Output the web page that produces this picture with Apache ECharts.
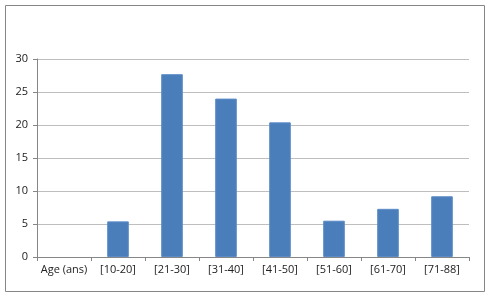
<!DOCTYPE html>
<html><head><meta charset="utf-8">
<script src="https://cdn.jsdelivr.net/npm/echarts@6/dist/echarts.min.js"></script>
<style>html,body{margin:0;padding:0;background:#fff}#c{width:486px;height:293px}</style>
</head><body><div id="c"></div>
<script>
const categories = ["Age (ans)", "[10-20]", "[21-30]", "[31-40]", "[41-50]", "[51-60]", "[61-70]", "[71-88]"];
const values = [null, 5.4, 27.7, 24.0, 20.4, 5.5, 7.3, 9.2];
const yTicks = [0, 5, 10, 15, 20, 25, 30];

const chart = echarts.init(document.getElementById('c'), null, {renderer: 'canvas'});
const font = '"Open Sans", "Liberation Sans", sans-serif';
chart.setOption({
  animation: false,
  backgroundColor: '#fff',
  graphic: [{
    type: 'rect', left: 3, top: 3,
    shape: {width: 479, height: 286},
    style: {fill: 'none', stroke: '#868686', lineWidth: 1}
  }],
  grid: {left: 37, right: 17, top: 59, bottom: 36},
  xAxis: {
    type: 'category', data: categories,
    axisLine: {lineStyle: {color: '#868686'}},
    axisTick: {show: true, length: 4, alignWithLabel: false, lineStyle: {color: '#868686'}},
    axisLabel: {color: '#222', fontFamily: font, fontSize: 11, margin: 7, interval: 0}
  },
  yAxis: {
    type: 'value', min: yTicks[0], max: yTicks[yTicks.length - 1], interval: 5,
    axisLine: {show: true, lineStyle: {color: '#868686'}},
    axisTick: {show: true, length: 4, lineStyle: {color: '#868686'}},
    splitLine: {lineStyle: {color: '#BEBEBE', width: 1}},
    axisLabel: {color: '#222', fontFamily: font, fontSize: 11, margin: 9}
  },
  series: [{
    type: 'bar', data: values, barCategoryGap: '60%',
    itemStyle: {color: '#4A7EBB', borderColor: '#5B8CC8', borderWidth: 1}
  }]
});
</script></body></html>
